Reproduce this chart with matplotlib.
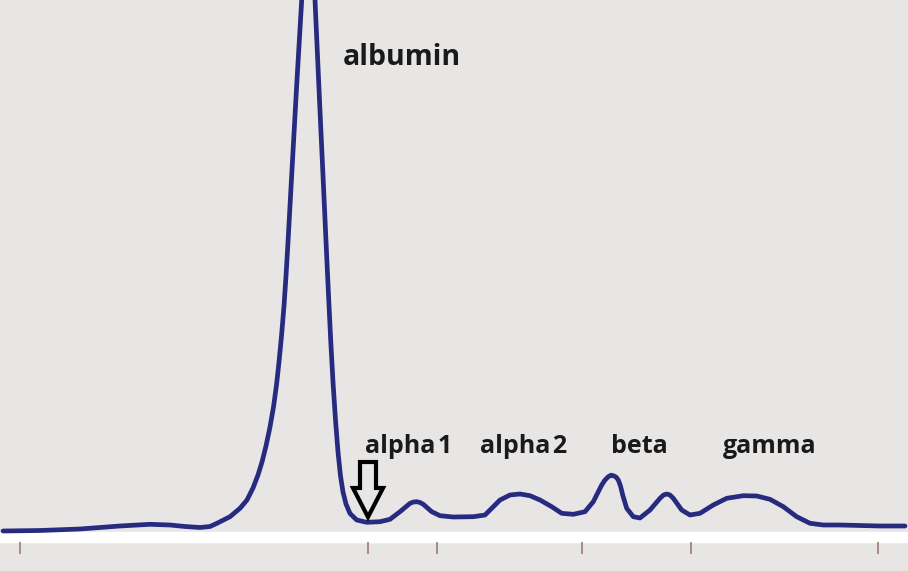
import numpy as np
import matplotlib
matplotlib.use("Agg")
import matplotlib.pyplot as plt
from matplotlib.patches import FancyArrow

# curva de electroforesis (posicion, altura)
posicion = [3, 40, 80, 120, 150, 170, 185, 200, 210, 217, 230, 240, 247, 253, 258,
            262, 266, 270, 273.5, 276.5, 279, 281.5, 284, 286, 288, 292.2, 296.7,
            301.7, 303.9, 306.5, 308.5, 310.5, 313.2, 315, 319.5, 323.2, 326.5,
            328.6, 330.8, 333, 335.5, 338, 340.5, 343, 346, 350, 356.7, 366.7, 380,
            390, 400, 410, 413.5, 416.7, 420, 423.3, 431.7, 440, 453.3, 473.3, 485,
            493.3, 500, 510, 520, 530, 540, 551.7, 561.7, 573.3, 585, 593.3, 601.7,
            605, 608.3, 611, 613.3, 616, 618.3, 620.5, 622.7, 626.7, 633.3, 640, 650,
            660, 663.5, 666.7, 670, 673.3, 681.7, 690, 700, 713.3, 726.7, 743.3,
            756.7, 770, 783.3, 796.7, 810, 823.3, 840, 860, 880, 905]
altura = [1, 1.5, 3, 6, 7.7, 7, 5.5, 4.5, 5.5, 8.7, 15.3, 23.7, 32, 44, 57,
          70, 86, 105, 125, 147, 170, 196, 226, 256, 290, 366, 447,
          532, 572, 610, 620, 610, 572, 532, 432, 352, 280,
          235, 190, 150, 112, 80, 56, 40, 28, 18.5, 12, 9.7, 10.3,
          12.7, 20.3, 28.7, 30, 30.3, 29.5, 27.7, 20.3, 16.3, 15, 15.3, 17,
          25.3, 32, 37, 38, 36.3, 32, 25.3, 18.7, 17.7, 20.3, 30.3, 47,
          52, 55.3, 56.8, 56.3, 55, 52, 46, 37, 23.7, 15.3, 14, 22,
          33.7, 37, 38, 37, 33.7, 22, 17, 18.7, 27, 33.7, 36.3,
          36, 32.7, 25.3, 15.3, 8.7, 7, 7, 6.5, 6, 6]

# fracciones
fracciones = ["albumin", "alpha\u200a1", "alpha\u200a2", "beta", "gamma"]
pos_etiquetas = [343, 365, 480, 611, 723]
alt_etiquetas = [467, 79, 79, 79, 79]

# marcas del eje
marcas = [20, 368, 437, 582, 691, 878]

fondo = "#e8e5e5"
azul = "#262b80"

fig = plt.figure(figsize=(9.08, 5.71), dpi=100)
fig.patch.set_facecolor(fondo)
ax = fig.add_axes([0, 0, 1, 1])
ax.set_facecolor(fondo)
ax.set_xlim(0, 908)
ax.set_ylim(-39, 532)
ax.axis("off")

# banda blanca y marcas
ax.axhspan(-10, 0, color="white", zorder=1)
ax.vlines(marcas, -22, -10, color="#a5837f", lw=1.3, zorder=2)

# curva
ax.plot(posicion, altura, color=azul, lw=3.4, solid_joinstyle="round",
        solid_capstyle="round", zorder=3)

# etiquetas
for nombre, x, y in zip(fracciones, pos_etiquetas, alt_etiquetas):
    tam = 20.5 if nombre == "albumin" else 18
    ax.text(x, y, nombre, fontsize=tam, fontweight="bold", color="#1a1a1a",
            family=["Open Sans", "DejaVu Sans"], ha="left", va="baseline", zorder=4)

# flecha
flecha = FancyArrow(368, 70, 0, -55, width=16, head_width=30, head_length=29,
                    length_includes_head=True, fc="none", ec="black", lw=3, zorder=5)
ax.add_patch(flecha)

plt.savefig("out.png", dpi=100, facecolor=fondo)
